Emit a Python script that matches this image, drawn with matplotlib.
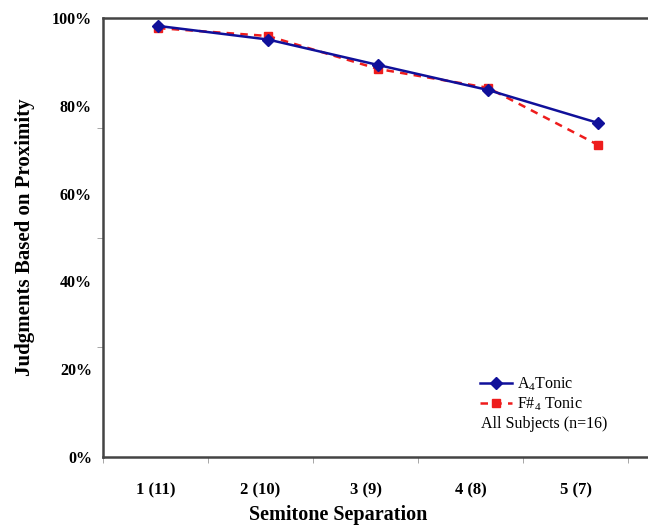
import numpy as np
import matplotlib
matplotlib.use("Agg")
import matplotlib.pyplot as plt

plt.rcParams["font.family"] = ["Liberation Serif", "DejaVu Serif"]
plt.rcParams["mathtext.fontset"] = "custom"
plt.rcParams["mathtext.rm"] = "Liberation Serif"
plt.rcParams["mathtext.it"] = "Liberation Serif:italic"
plt.rcParams["mathtext.bf"] = "Liberation Serif:bold"

# data
separations = [1, 2, 3, 4, 5]
category_labels = ["1 (11)", "2 (10)", "3 (9)", "4 (8)", "5 (7)"]
a4_tonic = [98.2, 95.1, 89.3, 83.6, 76.1]
fs4_tonic = [97.7, 95.9, 88.4, 84.1, 71.1]
y_labels = [0, 20, 40, 60, 80, 100]
y_minor = [25, 50, 75]

fig = plt.figure(figsize=(6.48, 5.25), dpi=100)
ax = fig.add_axes([103 / 648, 1 - 457 / 525, 550 / 648, 439 / 525])

x = np.array(separations)
ax.plot(x, a4_tonic, color="#10109a", lw=1.8, marker="D", ms=6,
        label=r"A$_4$Tonic", zorder=3)
ax.plot(x, fs4_tonic, color="#ee1c1c", lw=1.8, ls=(0, (3, 2.5)), marker="s",
        ms=6, label=r"F#$_4$ Tonic", zorder=2)

ax.set_xlim(0.5, 5.5)
ax.set_ylim(0, 100)

# excel-style category ticks, slightly narrower than the point spacing
step = 105 / 110
edges = 0.5 + step * np.arange(6)
ax.set_xticks(edges)
ax.set_xticklabels([])
ax.set_xticks(edges[:-1] + step / 2, minor=True)
ax.set_xticklabels(category_labels, minor=True, fontweight="bold", fontsize=12)
ax.tick_params(axis="x", which="major", length=4, width=0.6, color="#999999",
               direction="out")
ax.tick_params(axis="x", which="minor", length=0, pad=18)

ax.set_yticks(y_minor)
ax.set_yticklabels([])
ax.set_yticks(y_labels, minor=True)
ax.set_yticklabels([f"{v}%" for v in y_labels], minor=True,
                   fontweight="bold", fontsize=11.5)
ax.tick_params(axis="y", which="major", length=4, width=0.6, color="#999999",
               direction="out")
ax.tick_params(axis="y", which="minor", length=0, pad=8)

for side in ["left", "bottom", "top"]:
    ax.spines[side].set_color("#444444")
    ax.spines[side].set_linewidth(1.8)
ax.spines["right"].set_visible(False)

ax.set_xlabel("Semitone Separation", fontweight="bold", fontsize=14.5)
ax.xaxis.set_label_coords((338 - 103) / 550, -(505 - 457) / 439)
ax.set_ylabel("Judgments Based on Proximity", fontweight="bold", fontsize=15)
ax.yaxis.set_label_coords(-(103 - 35) / 550, 0.5)

leg = ax.legend(loc="upper left", bbox_to_anchor=((474 - 103) / 550, (457 - 369) / 439),
                frameon=False, fontsize=11.5, handlelength=2.0, handletextpad=0.3,
                labelspacing=0.15, borderaxespad=0)
ax.text((481 - 103) / 550, (457 - 424) / 439, "All Subjects (n=16)",
        transform=ax.transAxes, fontsize=11.5, va="center", ha="left")

fig.savefig("out.png", dpi=100)
